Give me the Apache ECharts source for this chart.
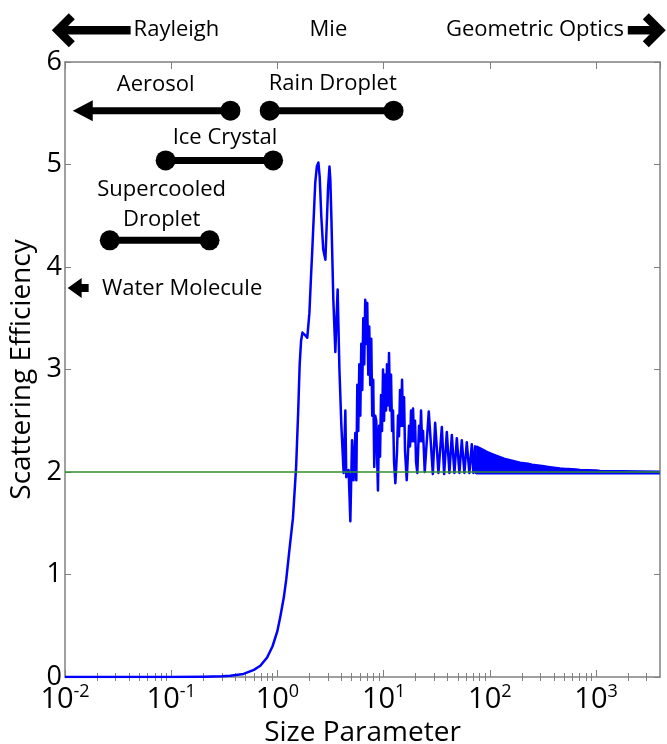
<!DOCTYPE html>
<html>
<head>
<meta charset="utf-8">
<title>Scattering Efficiency vs Size Parameter</title>
<script src="https://cdn.jsdelivr.net/npm/echarts@6/dist/echarts.min.js"></script>
<style>
  html, body { margin: 0; padding: 0; background: #fff; }
  #chart { width: 667px; height: 744px; }
</style>
</head>
<body>
<div id="chart"></div>
<script>
// Mie curve: [size parameter, scattering efficiency]
const riseCurve = [
  [0.01, 0], [0.05, 0], [0.1, 0.0003], [0.2, 0.003], [0.3, 0.007], [0.36, 0.012],
  [0.48, 0.03], [0.6, 0.07], [0.69, 0.11], [0.8, 0.19], [0.9, 0.3], [1.0, 0.45],
  [1.07, 0.6], [1.15, 0.78], [1.21, 0.95], [1.3, 1.25], [1.4, 1.55], [1.5, 2.05],
  [1.57, 2.6], [1.62, 3.05], [1.67, 3.28], [1.72, 3.36], [1.76, 3.37], [1.84, 3.33], [1.91, 3.31]
];
const peakCurve = [
  [2.0, 3.55], [2.07, 3.9], [2.13, 4.17], [2.2, 4.5], [2.27, 4.82], [2.35, 4.98], [2.43, 5.02],
  [2.5, 4.88], [2.59, 4.49], [2.7, 4.17], [2.83, 4.07], [2.93, 4.49], [3.0, 4.78], [3.09, 4.98],
  [3.15, 4.85], [3.22, 4.49], [3.36, 3.68], [3.51, 3.17], [3.6, 3.5], [3.69, 3.78], [3.83, 3.02],
  [4.0, 2.45], [4.2, 1.99]
];
// fast ripple riding on the broad oscillations (top and bottom of the filled blobs)
const rippleCurve = [
  [4.36, 2.6], [4.45, 1.95], [4.68, 2.02], [4.86, 1.52], [5.04, 2.31], [5.21, 1.92], [5.41, 2.38],
  [5.53, 1.92], [5.65, 2.85], [5.77, 2.4], [5.9, 3.05], [6.03, 2.55], [6.16, 3.25], [6.29, 2.8],
  [6.43, 3.5], [6.57, 3.05], [6.71, 3.68], [6.86, 3.25], [7.01, 3.65], [7.17, 2.95], [7.32, 3.42],
  [7.48, 2.85], [7.65, 3.3], [7.81, 2.55], [7.98, 2.9], [8.16, 2.05], [8.34, 2.55], [8.52, 2.5],
  [8.84, 1.82], [9.05, 2.45], [9.25, 2.15], [9.45, 2.75], [9.66, 2.4], [9.87, 3.0], [10.09, 2.5],
  [10.31, 2.95], [10.53, 2.6], [10.76, 3.05], [11.0, 2.65], [11.24, 3.16], [11.49, 2.6],
  [11.74, 2.95], [12.0, 2.4], [12.26, 2.6], [12.53, 2.1], [12.89, 1.89], [13.37, 2.2],
  [13.67, 2.55], [13.96, 2.35], [14.27, 2.8], [14.58, 2.45], [14.91, 2.9], [15.23, 2.45],
  [15.57, 2.73], [15.91, 2.2], [16.5, 1.92], [16.98, 2.2], [17.35, 2.45], [17.73, 2.25],
  [18.11, 2.6], [18.51, 2.3], [18.92, 2.62], [19.33, 2.3], [19.76, 2.5], [20.19, 2.1],
  [20.76, 1.99], [21.54, 2.45], [22.01, 2.3], [22.5, 2.6], [22.99, 2.3], [23.5, 2.4],
  [24.38, 2.0], [25.4, 1.99], [26.6, 2.59], [29.07, 1.98], [30.55, 2.48], [32.81, 1.99],
  [35.32, 2.44], [37.12, 1.98], [39.35, 2.39], [41.63, 1.99], [43.85, 2.36], [46.39, 1.99],
  [48.87, 2.33], [51.69, 1.99], [54.44, 2.31], [57.59, 1.99], [60.66, 2.29], [64.17, 1.99],
  [67.59, 2.27], [69.97, 1.99], [72.59, 2.25], [74.2, 1.98]
];
// upper edge of the dense band that the ripples merge into
const tailEnvelope = [
  [74.2, 2.25], [80.9, 2.23], [88.2, 2.21], [96.2, 2.19], [104.9, 2.175], [114.4, 2.16],
  [124.7, 2.145], [136, 2.13], [148.3, 2.12], [161.7, 2.11], [176.3, 2.1], [192.2, 2.09],
  [209.6, 2.085], [228.6, 2.08], [249.2, 2.07], [271.8, 2.065], [296.4, 2.06], [323.2, 2.055],
  [352.4, 2.05], [384.3, 2.045], [419, 2.04], [456.9, 2.035], [498.3, 2.032], [543.3, 2.03],
  [592.5, 2.027], [646.1, 2.024], [704.4, 2.02], [837, 2.018], [995.7, 2.015], [1086, 2.01],
  [1674, 2.008], [2581, 2.005], [3978, 2.003]
];
const bandFloor = 1.975;
const limitValue = 2;

// particle size ranges (size parameter) and the height they are drawn at
const particleNames = ['Aerosol', 'Rain Droplet', 'Ice Crystal', 'Supercooled\nDroplet'];
const particleRanges = [[0.0147, 0.361], [0.846, 12.4], [0.0886, 0.911], [0.0264, 0.2296]];
const particleLevels = [5.525, 5.525, 5.04, 4.26];
const particleOpenLow = [true, false, false, false];
const waterMolecule = [0.0133, 3.795];

const regimeNames = ['Rayleigh', 'Mie', 'Geometric Optics'];
const regimeCenters = [0.112, 3.02, 266];

const xMin = 0.01, xMax = 4000;
const xMinorTicks = [];
for (let k = -2; k <= 3; k++) {
  for (let m = 2; m <= 9; m++) {
    const v = Math.log10(m) + k;
    if (v < Math.log10(xMax)) xMinorTicks.push(v);
  }
}

const FONT = 'Open Sans';
const frame = '#808080';
const triLeft = 'path://M0,10 L20,0 L20,20 Z';
const smallArrow = 'path://M0,10 L14,0 L14,6 L21,6 L21,14 L14,14 L14,20 Z';
const chevronLeft = 'path://M0,17 L17,0 L23,6 L12,17 L23,28 L17,34 Z';
const chevronRight = 'path://M23,17 L6,0 L0,6 L11,17 L0,28 L6,34 Z';

// label anchors in data units
const labelAt = [[0.0713, 5.78], [3.32, 5.79], [0.321, 5.26], [0.0813, 4.605]];
const waterLabelAt = [0.1266, 3.785];
const headerLevel = 6.31;

const myChart = echarts.init(document.getElementById('chart'));

const curve = riseCurve.concat(peakCurve, rippleCurve);

const series = [];
series.push({
  type: 'line',
  data: curve,
  symbol: 'none',
  lineStyle: { color: '#0000ff', width: 2.5, join: 'round' },
  z: 2,
  silent: true
});
series.push({
  type: 'line',
  data: tailEnvelope,
  symbol: 'none',
  lineStyle: { color: '#0000ff', width: 2.5, join: 'round' },
  areaStyle: { color: '#0000ff', opacity: 1, origin: bandFloor },
  z: 2,
  silent: true
});
series.push({
  type: 'line',
  data: [[xMin, limitValue], [xMax, limitValue]],
  symbol: 'none',
  lineStyle: { color: '#2f8f2f', width: 1.3 },
  z: 3,
  silent: true
});

for (let i = 0; i < particleNames.length; i++) {
  const lvl = particleLevels[i];
  series.push({
    type: 'line',
    data: [
      particleOpenLow[i]
        ? { value: [particleRanges[i][0], lvl], symbol: triLeft, symbolSize: [20, 21] }
        : { value: [particleRanges[i][0], lvl], symbol: 'circle', symbolSize: 20 },
      { value: [particleRanges[i][1], lvl], symbol: 'circle', symbolSize: 20 }
    ],
    showSymbol: true,
    lineStyle: { color: '#000', width: 7, cap: 'butt' },
    itemStyle: { color: '#000', opacity: 1 },
    z: 5,
    silent: true
  });
}

// water molecule arrow
series.push({
  type: 'scatter',
  data: [{ value: waterMolecule }],
  symbol: smallArrow,
  symbolSize: [21, 20],
  itemStyle: { color: '#000', opacity: 1 },
  z: 5,
  silent: true
});

const labelStyle = {
  show: true, position: 'inside', formatter: '{b}', color: '#000',
  fontFamily: FONT, fontSize: 22, lineHeight: 30, textBorderWidth: 0, opacity: 1
};
series.push({
  type: 'scatter',
  symbolSize: 1,
  itemStyle: { color: 'rgba(0,0,0,0)', opacity: 1 },
  label: labelStyle,
  data: particleNames.map((n, i) => ({ name: n, value: labelAt[i] }))
    .concat([{ name: 'Water Molecule', value: waterLabelAt }]),
  z: 6,
  silent: true
});

// regime header above the plot
series.push({
  type: 'line',
  clip: false,
  data: [
    { value: [0.00964, headerLevel], symbol: chevronLeft, symbolSize: [23, 34] },
    { value: [0.0415, headerLevel], symbol: 'none' }
  ],
  showSymbol: true,
  lineStyle: { color: '#000', width: 8.5 },
  itemStyle: { color: '#000', opacity: 1 },
  silent: true
});
series.push({
  type: 'line',
  clip: false,
  data: [
    { value: [1991, headerLevel], symbol: 'none' },
    { value: [3532, headerLevel], symbol: chevronRight, symbolSize: [23, 34] }
  ],
  showSymbol: true,
  lineStyle: { color: '#000', width: 8.5 },
  itemStyle: { color: '#000', opacity: 1 },
  silent: true
});
series.push({
  type: 'scatter',
  clip: false,
  symbolSize: 1,
  itemStyle: { color: 'rgba(0,0,0,0)', opacity: 1 },
  label: labelStyle,
  data: regimeNames.map((n, i) => ({ name: n, value: [regimeCenters[i], headerLevel] })),
  silent: true
});

const minorAxis = (pos) => ({
  type: 'value', position: pos, min: -2, max: Math.log10(xMax),
  axisLine: { show: false }, axisLabel: { show: false }, splitLine: { show: false },
  axisTick: { show: true, inside: true, length: 4, customValues: xMinorTicks, lineStyle: { color: frame } }
});

myChart.setOption({
  animation: false,
  grid: { left: 65, right: 7, top: 62, bottom: 67, containLabel: false, outerBoundsMode: 'none' },
  xAxis: [
    {
      type: 'log', logBase: 10, min: xMin, max: xMax, position: 'bottom',
      axisLine: { show: true, onZero: false, lineStyle: { color: frame, width: 1.5 } },
      axisTick: { show: true, inside: true, length: 7, lineStyle: { color: frame } },
      splitLine: { show: false },
      axisLabel: {
        margin: 6, showMaxLabel: false, hideOverlap: false,
        formatter: function (v) {
          return '{b|10}{s|' + Math.round(Math.log10(v)) + '}';
        },
        rich: {
          b: { fontSize: 29, fontFamily: FONT, color: '#000', lineHeight: 34 },
          s: { fontSize: 18, fontFamily: FONT, color: '#000', verticalAlign: 'top', lineHeight: 18 }
        }
      },
      name: 'Size Parameter', nameLocation: 'middle', nameGap: 42,
      nameTextStyle: { fontSize: 28, fontFamily: FONT, color: '#000' }
    },
    minorAxis('bottom'),
    {
      type: 'log', logBase: 10, min: xMin, max: xMax, position: 'top',
      axisLine: { show: true, onZero: false, lineStyle: { color: frame, width: 1.5 } },
      axisTick: { show: true, inside: true, length: 7, lineStyle: { color: frame } },
      axisLabel: { show: false }, splitLine: { show: false }
    },
    minorAxis('top')
  ],
  yAxis: [
    {
      type: 'value', min: 0, max: 6, interval: 1, position: 'left',
      axisLine: { show: true, onZero: false, lineStyle: { color: frame, width: 1.5 } },
      axisTick: { show: true, inside: true, length: 6, lineStyle: { color: frame } },
      splitLine: { show: false },
      axisLabel: { fontSize: 27, fontFamily: FONT, color: '#000', margin: 3 },
      name: 'Scattering Efficiency', nameLocation: 'middle', nameGap: 24, nameRotate: 90,
      nameTextStyle: { fontSize: 28, fontFamily: FONT, color: '#000' }
    },
    {
      type: 'value', min: 0, max: 6, interval: 1, position: 'right',
      axisLine: { show: true, onZero: false, lineStyle: { color: frame, width: 1.5 } },
      axisTick: { show: true, inside: true, length: 6, lineStyle: { color: frame } },
      axisLabel: { show: false }, splitLine: { show: false }
    }
  ],
  series: series
});
</script>
</body>
</html>
